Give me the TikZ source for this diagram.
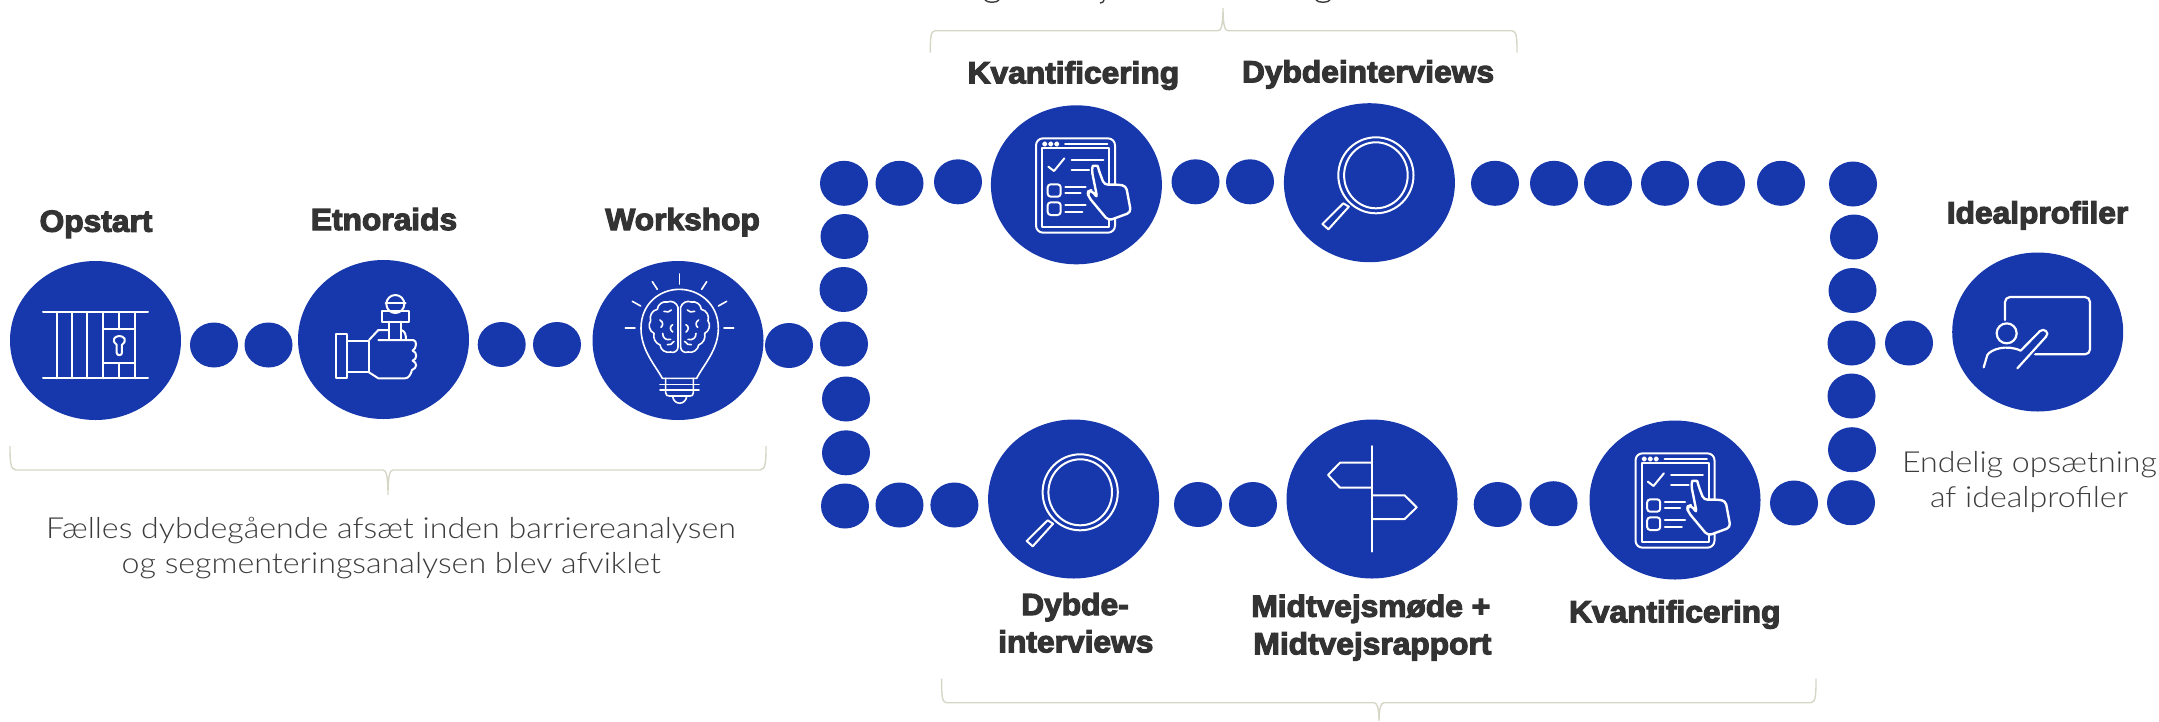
\documentclass[tikz,border=0pt]{standalone}
\usepackage{fontspec}
\usetikzlibrary{shapes.geometric}
\newfontfamily\hdbase{Liberation Sans Bold}[FakeBold=3.8,FakeStretch=1.04]
\newfontfamily\bdfont{Lato Light}[FakeStretch=1.11]
\definecolor{nblue}{HTML}{1737AC}
\definecolor{ntext}{HTML}{333333}
\definecolor{nbody}{HTML}{3C3C3C}
\definecolor{nbrace}{HTML}{D6D6C6}
\tikzset{
  big/.style={ellipse,fill=nblue,minimum width=171pt,minimum height=159pt,inner sep=0pt,outer sep=0pt},
  dotn/.style={ellipse,fill=nblue,minimum width=48pt,minimum height=45pt,inner sep=0pt,outer sep=0pt},
  head/.style={anchor=base,text=ntext,font=\hdbase\fontsize{30.5}{32}\selectfont,inner sep=0pt},
  body/.style={anchor=base,text=nbody,font=\bdfont\fontsize{29}{31}\selectfont,inner sep=0pt},
  brace/.style={draw=nbrace,line width=1.4pt,fill=none},
  ico/.style={draw=white,line width=2pt,line join=round,line cap=round},
  icoz/.style={shift={#1},x=0.33333pt,y=-0.33333pt},
}
\newcommand{\tablet}[2]{%
\begin{scope}[icoz={(#1,#2)},ico]
 \draw[rounded corners=7pt] (48,40) rectangle (285,323);
 \draw (66,70) rectangle (267,305);
 \foreach \q in {74,92,110} \draw (\q,57) circle[radius=5];
 \draw (135,57) -- (262,57);
 \draw (85,125) -- (102,138) -- (133,100);
 \draw (155,104) -- (250,104);
 \draw (155,136) -- (207,136);
 \draw[rounded corners=3pt] (83,178) rectangle (122,215);
 \draw[rounded corners=3pt] (83,232) rectangle (122,270);
 \draw (136,185) -- (197,185); \draw (136,205) -- (182,205);
 \draw (136,241) -- (197,241); \draw (136,262) -- (187,262);
 \draw[fill=nblue,line width=2.4pt,rounded corners=4pt] (215,135) .. controls (218,122) and (233,122) .. (236,135) -- (253,180) -- (282,178) -- (318,182) -- (333,262) -- (265,287) -- (205,215) -- (203,200) -- (215,195) -- (232,220) -- cycle;
\end{scope}}
\newcommand{\lens}[2]{%
\begin{scope}[shift={(#1,#2)},ico]
 \draw (0,0) ellipse[x radius=37.6pt,y radius=38pt];
 \draw (0,0) ellipse[x radius=31.8pt,y radius=33pt];
 \draw (-32.6,28) -- (-27.1,31.4) -- (-47.5,54) -- (-53.5,48.7) -- cycle;
\end{scope}}
\begin{document}
\begin{tikzpicture}[x=1pt,y=-1pt]
\useasboundingbox (0,0) rectangle (2159,721);
% large circles
\node[big] (opstart) at (95.5,340.5) {};
\node[big] (etno) at (383.5,339.5) {};
\node[big] (work) at (678,340.5) {};
\node[big] (kvant1) at (1076.4,184.8) {};
\node[big] (dyb1) at (1369.4,182.7) {};
\node[big] (dyb2) at (1073.6,499) {};
\node[big] (midt) at (1372,499) {};
\node[big] (kvant2) at (1675,500) {};
\node[big] (ideal) at (2037.7,332) {};
% dots
\foreach \n/\x/\y in {a1/214/345,a2/268.5/345,a3/501.7/344.5,a4/557/344.5,a5/789/345.5,
 l1/844/183.3,l2/844.5/236.5,l3/843.5/289.5,l4/844/344,l5/846/399,l6/846/452.8,l7/845/506,
 t1/899.5/183.3,t2/958/181.8,t3/1195.5/181.8,t4/1250/181.8,t5/1495/183.3,t6/1554/183.3,
 t7/1608/183.3,t8/1665/183.3,t9/1721/183.3,t10/1781/183.3,
 r1/1853/184,r2/1854/237,r3/1852.5/290.5,r4/1851.5/343,r5/1851.5/396,r6/1852/449.7,r7/1851/502.7,
 e1/1909/343,
 b1/899.5/505,b2/954.4/505,b3/1198/504.5,b4/1253/504.5,b5/1497.7/504.5,b6/1553.5/503.7,b7/1794/503}
 \node[dotn] (\n) at (\x,\y) {};
% cage icon
\begin{scope}[icoz={(0,250)},ico]
 \draw (129,187) -- (444,187); \draw (129,385) -- (444,385);
 \foreach \q in {172,215,262,310,405} \draw (\q,187) -- (\q,385);
 \draw (358,187) -- (358,238); \draw (358,340) -- (358,385);
 \draw (310,238) -- (405,238); \draw (310,340) -- (405,340);
 \draw (350,284) .. controls (332,270) and (345,258) .. (358,258) .. controls (371,258) and (384,270) .. (366,284) -- (366,308) .. controls (366,318) and (350,318) .. (350,308) -- cycle;
\end{scope}
% fist and microphone
\begin{scope}[icoz={(320,280)},ico]
 \draw (48,163) rectangle (82,295);
 \draw (83,182) -- (147,182) -- (147,277) -- (83,277);
 \draw (147,180) -- (175,150) -- (207,150);
 \draw (175,180) -- (280,180) .. controls (292,182) and (290,205) .. (278,212) .. controls (292,216) and (292,238) .. (278,242) .. controls (292,248) and (292,264) .. (276,270) .. controls (272,285) and (265,295) .. (255,295) -- (175,295) -- (147,277);
 \draw (207,125) -- (207,180); \draw (243,125) -- (243,180);
 \draw (243,150) .. controls (255,152) and (258,165) .. (258,180);
 \draw (185,92) rectangle (267,125);
 \draw (226,72) circle[radius=27];
 \draw (197,70) -- (257,70);
\end{scope}
% bulb
\begin{scope}[icoz={(580,250)},ico,line width=1.6pt]
 \draw (247,385) .. controls (225,345) and (183,300) .. (183,235) .. controls (183,160) and (240,118) .. (298,118) .. controls (356,118) and (415,160) .. (415,235) .. controls (415,300) and (370,345) .. (350,385) -- cycle;
 \draw (298,72) -- (298,102);
 \draw (217,95) -- (232,118); \draw (380,95) -- (365,118);
 \draw (157,154) -- (182,168); \draw (440,154) -- (415,168);
 \draw (136,234) -- (165,234); \draw (432,234) -- (461,234);
 \draw (240,403) -- (357,403); \draw (240,420) -- (357,420);
 \draw (257,385) -- (257,428) .. controls (257,436) and (262,438) .. (268,438) -- (330,438) .. controls (336,438) and (340,436) .. (340,428) -- (340,385);
 \draw (278,440) .. controls (282,466) and (316,466) .. (320,440);
 \draw (294,172) to[bend right=50] (262,156) to[bend right=50] (232,178) to[bend right=50] (212,212) to[bend right=50] (222,250) to[bend right=40] (240,285) to[bend right=50] (272,306) to[bend right=60] (294,292) -- cycle;
 \draw (302,172) to[bend left=50] (334,156) to[bend left=50] (364,178) to[bend left=50] (384,212) to[bend left=50] (374,250) to[bend left=40] (356,285) to[bend left=50] (324,306) to[bend left=60] (302,292) -- cycle;
 \draw (252,184) .. controls (260,188) and (270,186) .. (274,180);
 \draw (344,184) .. controls (336,188) and (326,186) .. (322,180);
 \draw (240,210) .. controls (250,216) and (250,226) .. (243,232);
 \draw (356,210) .. controls (346,216) and (346,226) .. (353,232);
 \draw (278,224) .. controls (268,230) and (270,240) .. (278,246);
 \draw (318,224) .. controls (328,230) and (326,240) .. (318,246);
 \draw (248,250) .. controls (248,264) and (258,272) .. (272,268);
 \draw (348,250) .. controls (348,264) and (338,272) .. (324,268);
 \draw (262,284) .. controls (270,286) and (276,282) .. (282,274);
 \draw (334,284) .. controls (326,286) and (320,282) .. (314,274);
\end{scope}
\tablet{1020}{125}
\tablet{1619.5}{440}
\lens{1375.9}{175.3}
\lens{1080.2}{492.3}
% signpost
\begin{scope}[ico]
 \draw (1372,446) -- (1372,551.7);
 \draw (1372,462.7) -- (1340,462.7) -- (1328,475) -- (1340,487.7) -- (1372,487.7);
 \draw (1372,495.3) -- (1404.6,495.3) -- (1416.7,507.3) -- (1404.6,519) -- (1372,519);
\end{scope}
% presenter
\begin{scope}[icoz={(1780,160)},ico,line width=2.2pt]
 \draw[rounded corners=5pt] (675,480) -- (675,411) -- (930,411) -- (930,583) -- (765,583);
 \draw (680,520) circle[radius=30];
 \draw (611,622) -- (622,585) .. controls (632,568) and (680,552) .. (722,572) -- (780,513) .. controls (792,503) and (810,518) .. (798,530) -- (712,625);
\end{scope}
% braces
\draw[brace] (10,446) .. controls (10,460) and (10,470) .. (16,470) -- (383,470) .. controls (386,470) and (388,475) .. (388,495) .. controls (388,475) and (390,470) .. (393,470) -- (760,470) .. controls (766,470) and (766,460) .. (766,446);
\draw[brace] (930.3,52.7) .. controls (930.3,40) and (930.3,30.7) .. (935,30.7) -- (1218,30.7) .. controls (1221,30.7) and (1223,26) .. (1223,8) .. controls (1223,26) and (1225,30.7) .. (1228,30.7) -- (1512,30.7) .. controls (1517,30.7) and (1517,40) .. (1517,52.7);
\draw[brace] (941.6,678.7) .. controls (941.6,692) and (941.6,702.7) .. (946,702.7) -- (1374,702.7) .. controls (1377,702.7) and (1379,708) .. (1379,721) .. controls (1379,708) and (1381,702.7) .. (1384,702.7) -- (1811,702.7) .. controls (1816,702.7) and (1816,692) .. (1816,678.7);
% clipped descenders at the top edge
\begin{scope}[draw=nbody,line width=1.4pt]
 \draw (985,0) .. controls (987,3) and (997,3) .. (999,0);
 \draw (1104,0) .. controls (1104,2) and (1102,3) .. (1100,3);
 \draw (1316,0) .. controls (1318,3) and (1328,3) .. (1330,0);
\end{scope}
% labels
\node[head] (lo) at (96,231.7) {Opstart};
\node[head] (le) at (384,230) {Etnoraids};
\node[head] (lw) at (682.6,230) {Workshop};
\node[head] (lk1) at (1073.4,83.3) {Kvantificering};
\node[head] (ld1) at (1368,82.3) {Dybdeinterviews};
\node[head] (ld2) at (1075,615) {Dybde-};
\node[head] (ld3) at (1075.8,652.3) {interviews};
\node[head] (lm1) at (1370.8,616.7) {Midtvejsmøde +};
\node[head] (lm2) at (1372.4,654.3) {Midtvejsrapport};
\node[head] (lk2) at (1674.7,622.3) {Kvantificering};
\node[head] (li) at (2037.5,223.3) {Idealprofiler};
\node[body] (t1x) at (391,538.3) {Fælles dybdegående afsæt inden barriereanalysen};
\node[body] (t2x) at (391.3,573.3) {og segmenteringsanalysen blev afviklet};
\node[body] (t3x) at (2029.5,472.3) {Endelig opsætning};
\node[body] (t4x) at (2029,507.7) {af idealprofiler};
\end{tikzpicture}
\end{document}
